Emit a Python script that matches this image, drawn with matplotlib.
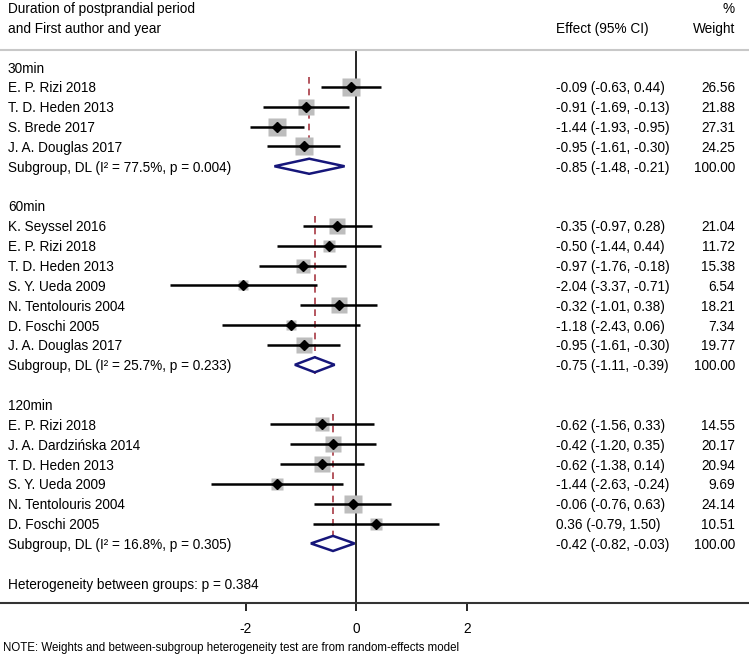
import matplotlib
import matplotlib.pyplot as plt
import numpy as np

matplotlib.rcParams['font.family'] = ['Liberation Sans', 'DejaVu Sans']
matplotlib.rcParams['font.size'] = 9.8
matplotlib.rcParams['axes.unicode_minus'] = False

# --- data ---
groups = ['30min', '60min', '120min']

names_30 = ['E. P. Rizi 2018', 'T. D. Heden 2013', 'S. Brede 2017', 'J. A. Douglas 2017']
eff_30 = [-0.09, -0.91, -1.44, -0.95]
lo_30 = [-0.63, -1.69, -1.93, -1.61]
hi_30 = [0.44, -0.13, -0.95, -0.30]
w_30 = [26.56, 21.88, 27.31, 24.25]

names_60 = ['K. Seyssel 2016', 'E. P. Rizi 2018', 'T. D. Heden 2013', 'S. Y. Ueda 2009',
            'N. Tentolouris 2004', 'D. Foschi 2005', 'J. A. Douglas 2017']
eff_60 = [-0.35, -0.50, -0.97, -2.04, -0.32, -1.18, -0.95]
lo_60 = [-0.97, -1.44, -1.76, -3.37, -1.01, -2.43, -1.61]
hi_60 = [0.28, 0.44, -0.18, -0.71, 0.38, 0.06, -0.30]
w_60 = [21.04, 11.72, 15.38, 6.54, 18.21, 7.34, 19.77]

names_120 = ['E. P. Rizi 2018', 'J. A. Dardzińska 2014', 'T. D. Heden 2013', 'S. Y. Ueda 2009',
             'N. Tentolouris 2004', 'D. Foschi 2005']
eff_120 = [-0.62, -0.42, -0.62, -1.44, -0.06, 0.36]
lo_120 = [-1.56, -1.20, -1.38, -2.63, -0.76, -0.79]
hi_120 = [0.33, 0.35, 0.14, -0.24, 0.63, 1.50]
w_120 = [14.55, 20.17, 20.94, 9.69, 24.14, 10.51]

pooled_eff = [-0.85, -0.75, -0.42]
pooled_lo = [-1.48, -1.11, -0.82]
pooled_hi = [-0.21, -0.39, -0.03]
i2 = [77.5, 25.7, 16.8]
p_het = [0.004, 0.233, 0.305]
p_between = 0.384

study_sets = [
    (names_30, eff_30, lo_30, hi_30, w_30),
    (names_60, eff_60, lo_60, hi_60, w_60),
    (names_120, eff_120, lo_120, hi_120, w_120),
]

# --- figure ---
W, H = 749, 658
fig = plt.figure(figsize=(W / 100, H / 100), dpi=100)
ax = fig.add_axes([0, 1 - 603 / H, 1, (603 - 50) / H])

scale = 55.25
zero_px = 356.2
ax.set_xlim(-zero_px / scale, (W - zero_px) / scale)
row_h = 19.85
ax.set_ylim(27, -(67 - 50) / row_h)

tr = ax.get_yaxis_transform()  # x: axes fraction (== figure fraction), y: rows


def px(x):
    return x / W


x_label = px(8)
x_eff = px(556)
x_w = px(735)
va = 'center_baseline'

# headers
ax.text(x_label, -3, 'Duration of postprandial period', transform=tr, va=va)
ax.text(x_label, -2, 'and First author and year', transform=tr, va=va)
ax.text(x_eff, -2, 'Effect (95% CI)', transform=tr, va=va)
ax.text(x_w, -3, '%', transform=tr, va=va, ha='right')
ax.text(x_w, -2, 'Weight', transform=tr, va=va, ha='right')

navy = '#16167a'
red = '#a83a44'

row = 0
for g, (names, eff, lo, hi, w) in enumerate(study_sets):
    ax.text(x_label, row, groups[g], transform=tr, va=va)
    row += 1
    first = row
    for n, e, l, h, wt in zip(names, eff, lo, hi, w):
        side = 3.6 * np.sqrt(wt) * 0.72
        ax.plot(e, row, marker='s', ms=side, color='#bdbdbd', mec='none', zorder=2)
        ax.plot([l, h], [row, row], color='black', lw=1.8, zorder=3, solid_capstyle='butt')
        ax.plot(e, row, marker='D', ms=5.5, color='black', zorder=4)
        ax.text(x_label, row, n, transform=tr, va=va)
        ax.text(x_eff, row, f'{e:.2f} ({l:.2f}, {h:.2f})', transform=tr, va=va)
        ax.text(x_w, row, f'{wt:.2f}', transform=tr, va=va, ha='right')
        row += 1
    # pooled
    pe, pl, ph = pooled_eff[g], pooled_lo[g], pooled_hi[g]
    ax.plot([pe, pe], [first - 0.5, row + 0.45], color=red, lw=1.2, ls=(0, (4, 3)), zorder=1)
    ax.fill([pl, pe, ph, pe, pl], [row, row - 0.38, row, row + 0.38, row],
            facecolor='white', edgecolor=navy, lw=1.8, zorder=3)
    ax.text(x_label, row, f'Subgroup, DL (I² = {i2[g]}%, p = {p_het[g]:.3f})',
            transform=tr, va=va)
    ax.text(x_eff, row, f'{pe:.2f} ({pl:.2f}, {ph:.2f})', transform=tr, va=va)
    ax.text(x_w, row, '100.00', transform=tr, va=va, ha='right')
    row += 2

ax.text(x_label, row, f'Heterogeneity between groups: p = {p_between:.3f}',
        transform=tr, va=va)

ax.axvline(0, color='black', lw=1.2, zorder=0)

for s in ['left', 'right']:
    ax.spines[s].set_visible(False)
ax.spines['top'].set_color('#c8c8c8')
ax.spines['top'].set_linewidth(1.5)
ax.spines['bottom'].set_color('#333333')
ax.spines['bottom'].set_linewidth(1.5)
ax.set_yticks([])
ax.set_xticks([-2, 0, 2])
ax.tick_params(axis='x', direction='out', length=6, width=1.2, pad=8, labelsize=9.8)

fig.text(px(3), 1 - 647 / H,
         'NOTE: Weights and between-subgroup heterogeneity test are from random-effects model',
         fontsize=8.3, va='center_baseline')

fig.savefig('out.png', dpi=100, facecolor='white')
